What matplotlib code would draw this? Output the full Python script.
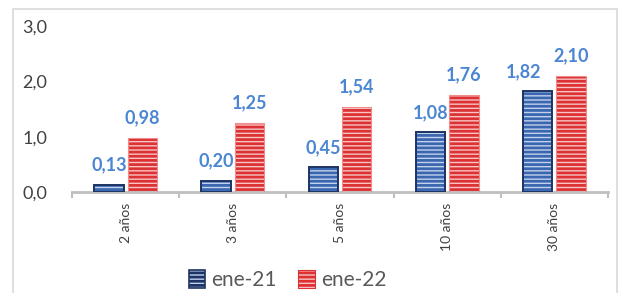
import matplotlib.pyplot as plt
import numpy as np
from matplotlib.patches import Rectangle

plt.rcParams['font.family'] = ['Lato', 'DejaVu Sans']
plt.rcParams['hatch.linewidth'] = 2.0

categories = ["2 años", "3 años", "5 años", "10 años", "30 años"]
ene21 = [0.13, 0.20, 0.45, 1.08, 1.82]
ene22 = [0.98, 1.25, 1.54, 1.76, 2.10]
series_names = ["ene-21", "ene-22"]

fig = plt.figure(figsize=(6.21, 2.93), dpi=100)
ax = fig.add_axes([0.116, 0.345, 0.863, 0.566])

x = np.arange(len(categories))
w = 0.275
off = 0.155

# blue bars: light fill + blue horizontal stripes, navy outline on top
ax.bar(x - off, ene21, w, color="#c3d2ec", edgecolor="#3a67b0", hatch="----", linewidth=0, zorder=2)
ax.bar(x - off, ene21, w, fill=False, edgecolor="#1c3464", linewidth=1.4, zorder=3)
# red bars
ax.bar(x + off, ene22, w, color="#f8c4c4", edgecolor="#dc3234", hatch="----", linewidth=0, zorder=2)
ax.bar(x + off, ene22, w, fill=False, edgecolor="#f08c8c", linewidth=0.8, zorder=3)

lab_color = "#4a86d2"
for i, v in enumerate(ene21):
    dx = -10 if i == 4 else 0
    ax.annotate(f"{v:.2f}".replace(".", ","), (x[i] - off, v), xytext=(dx, 8),
                textcoords="offset points", ha="center", va="bottom",
                color=lab_color, fontsize=13, fontweight="bold")
for i, v in enumerate(ene22):
    ax.annotate(f"{v:.2f}".replace(".", ","), (x[i] + off, v), xytext=(0, 8),
                textcoords="offset points", ha="center", va="bottom",
                color=lab_color, fontsize=13, fontweight="bold")

ax.set_ylim(0, 3)
ax.set_xlim(-0.5, len(categories) - 0.5)
ax.set_yticks([0, 1, 2, 3])
ax.set_yticklabels(["0,0", "1,0", "2,0", "3,0"], fontsize=13, color="#404040")
ax.set_xticks(x)
ax.set_xticklabels(categories, rotation=90, fontsize=10, color="#404040")
ax.set_xticks(np.arange(-0.5, len(categories)), minor=True)
ax.tick_params(axis="x", which="major", length=0, pad=8)
ax.tick_params(axis="x", which="minor", length=4, width=1.5, color="#bfbfbf")
ax.tick_params(axis="y", length=0, pad=18)

for s in ["top", "right", "left"]:
    ax.spines[s].set_visible(False)
ax.spines["bottom"].set_color("#bfbfbf")
ax.spines["bottom"].set_linewidth(2)

h1 = Rectangle((0, 0), 1, 1, facecolor="#c3d2ec", edgecolor="#1c3464", hatch="----", linewidth=1.2)
h2 = Rectangle((0, 0), 1, 1, facecolor="#f8c4c4", edgecolor="#dc3234", hatch="----", linewidth=0.8)
fig.legend([h1, h2], series_names, loc="center", bbox_to_anchor=(0.463, 0.045), ncol=2,
           frameon=False, fontsize=15, labelcolor="#595959", handlelength=0.8,
           handleheight=1.0, handletextpad=0.3, columnspacing=1.0)

# outer chart frame
fig.patches.append(Rectangle((13 / 621, -0.05), 604 / 621, (293 - 9) / 293 + 0.05,
                             transform=fig.transFigure, fill=False,
                             edgecolor="#d9d9d9", linewidth=1.2))

fig.savefig("out.png", dpi=100)
